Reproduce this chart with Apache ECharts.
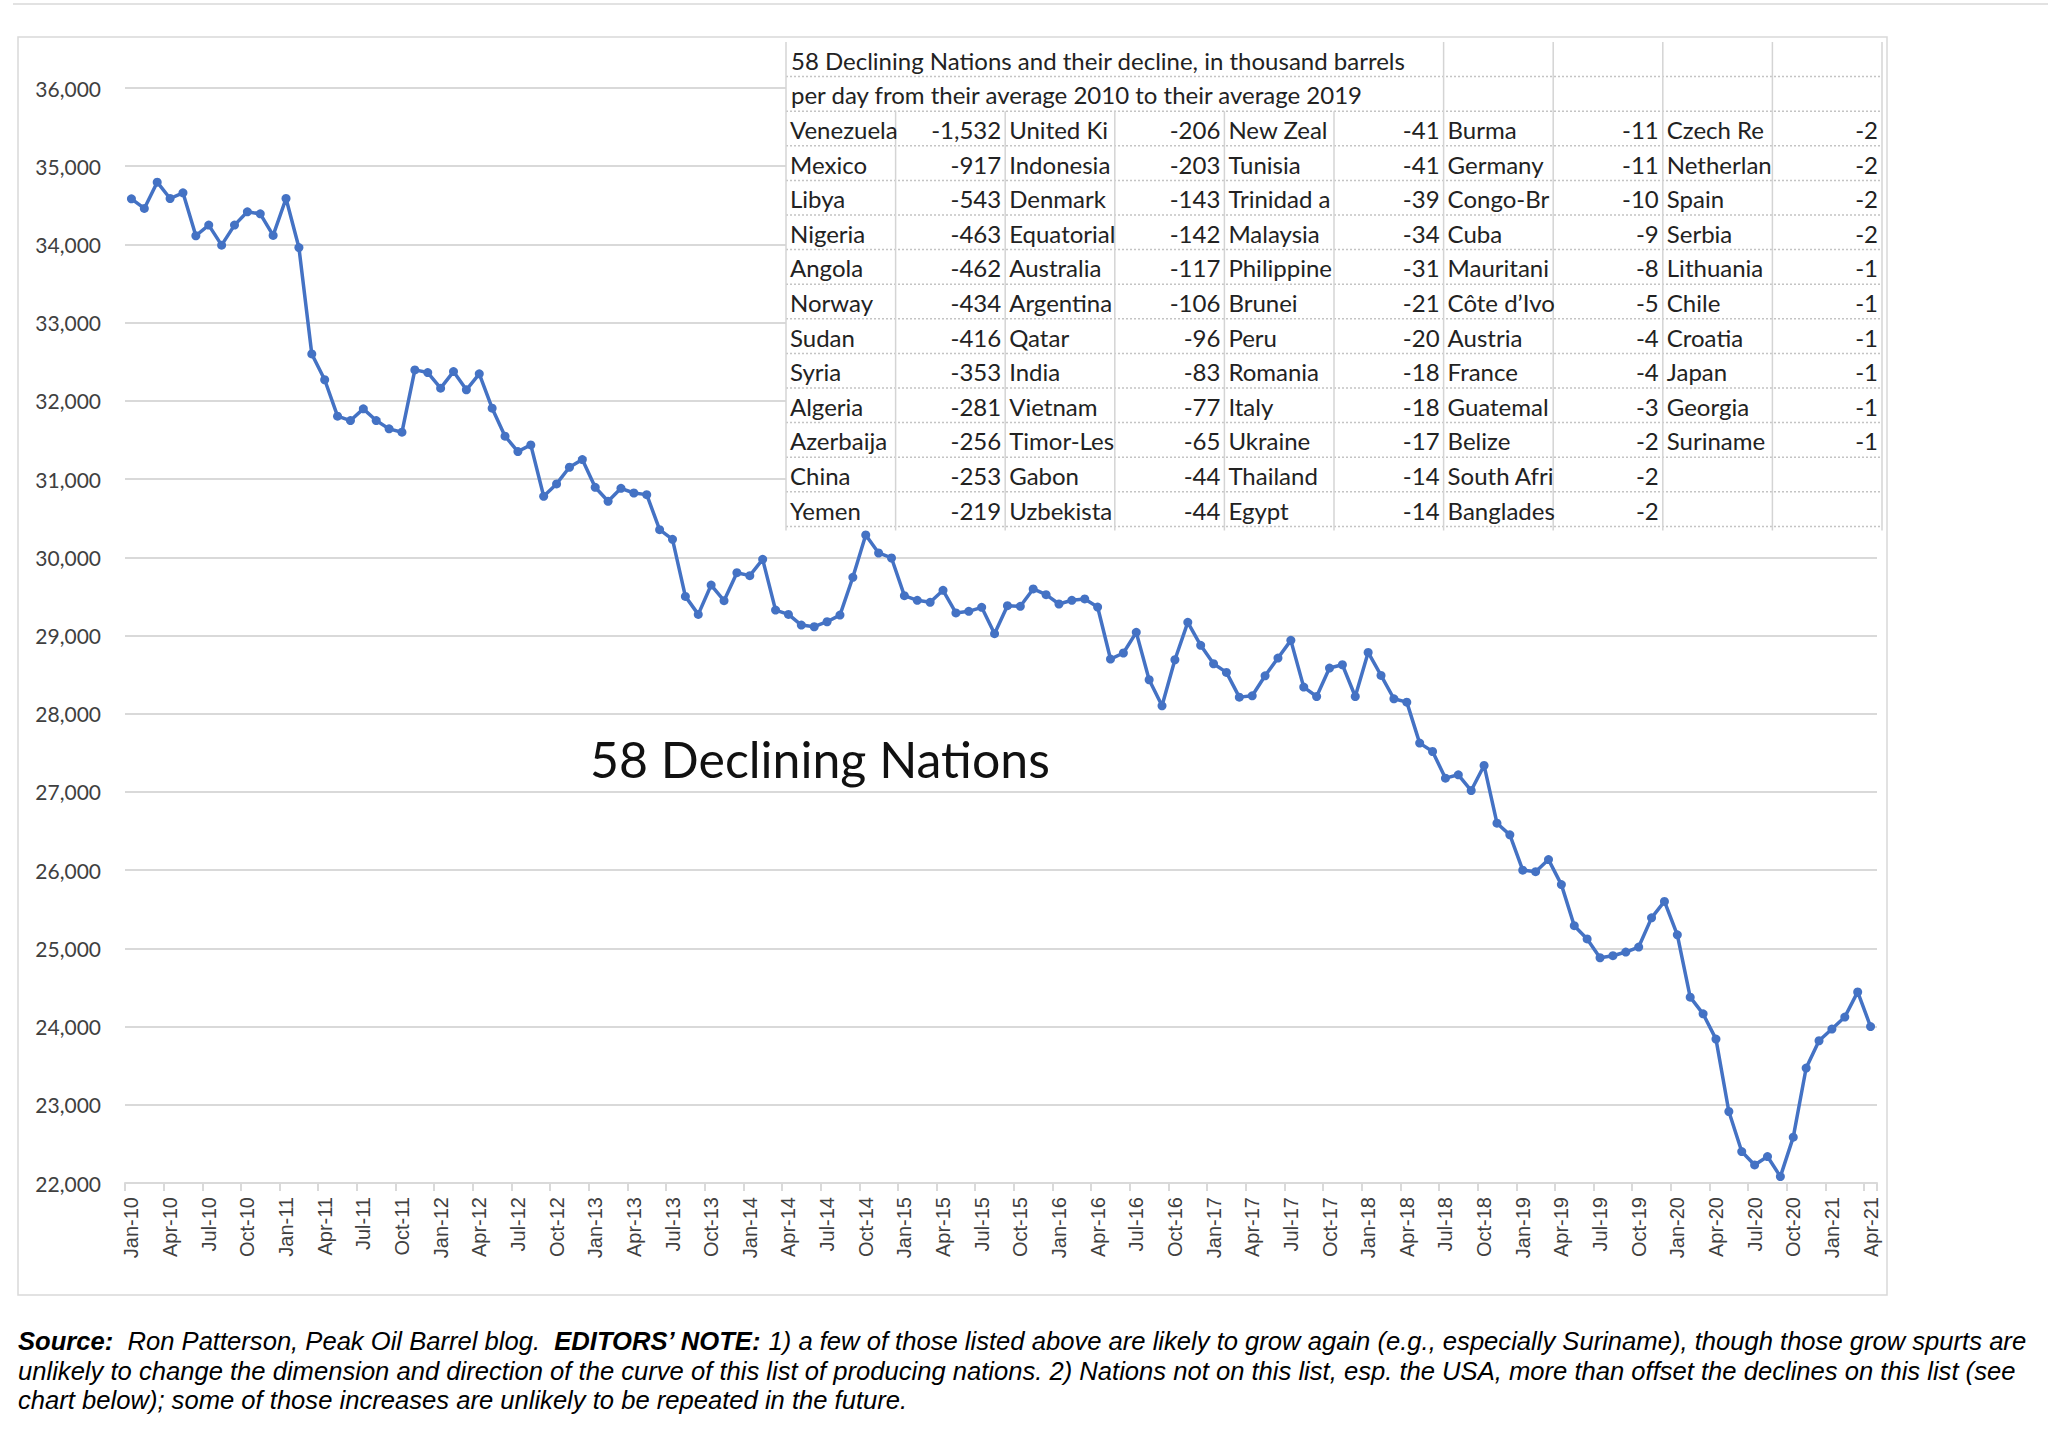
<!DOCTYPE html>
<html><head><meta charset="utf-8">
<script src="https://cdn.jsdelivr.net/npm/echarts@6/dist/echarts.min.js"></script>
<style>html,body{margin:0;padding:0;background:#fff}#c{width:2048px;height:1433px}</style>
</head><body><div id="c"></div>
<script>
// ---- data ----
const monthNames = ['Jan','Feb','Mar','Apr','May','Jun','Jul','Aug','Sep','Oct','Nov','Dec'];
const years = ['10','11','12','13','14','15','16','17','18','19','20','21'];
const categories = [];
years.forEach(y => monthNames.forEach(m => { if (categories.length < 136) categories.push(m + '-' + y); }));

const production = [
  34583, 34460, 34796, 34587, 34660, 34111, 34247, 33991, 34247, 34417, 34391, 34115,
  34587, 33960, 32600, 32270, 31804, 31748, 31898, 31748, 31642, 31599, 32396, 32362,
  32162, 32374, 32141, 32345, 31906, 31548, 31352, 31437, 30780, 30938, 31151, 31249,
  30895, 30716, 30882, 30822, 30801, 30353, 30230, 29500, 29270, 29645, 29445, 29803,
  29765, 29974, 29325, 29270, 29133, 29112, 29176, 29261, 29744, 30285, 30055, 29991,
  29509, 29450, 29424, 29578, 29288, 29309, 29360, 29023, 29381, 29373, 29595, 29522,
  29403, 29450, 29467, 29364, 28699, 28776, 29040, 28434, 28101, 28690, 29168, 28874,
  28639, 28528, 28212, 28229, 28485, 28712, 28938, 28340, 28220, 28584, 28626, 28220,
  28784, 28490, 28191, 28148, 27624, 27517, 27176, 27219, 27018, 27338, 26600, 26451,
  26000, 25980, 26135, 25815, 25290, 25120, 24880, 24906, 24953, 25017, 25390, 25600,
  25173, 24376, 24163, 23840, 22914, 22402, 22231, 22338, 22082, 22586, 23470, 23819,
  23968, 24122, 24443, 24000
];

const tableTitle1 = '58 Declining Nations and their decline, in thousand barrels';
const tableTitle2 = 'per day from their average 2010 to their average 2019';
const names1 = ['Venezuela','Mexico','Libya','Nigeria','Angola','Norway','Sudan','Syria','Algeria','Azerbaijan','China','Yemen'];
const values1 = [-1532,-917,-543,-463,-462,-434,-416,-353,-281,-256,-253,-219];
const names2 = ['United Kingdom','Indonesia','Denmark','Equatorial Guinea','Australia','Argentina','Qatar','India','Vietnam','Timor-Leste','Gabon','Uzbekistan'];
const values2 = [-206,-203,-143,-142,-117,-106,-96,-83,-77,-65,-44,-44];
const names3 = ['New Zealand','Tunisia','Trinidad and Tobago','Malaysia','Philippines','Brunei','Peru','Romania','Italy','Ukraine','Thailand','Egypt'];
const values3 = [-41,-41,-39,-34,-31,-21,-20,-18,-18,-17,-14,-14];
const names4 = ['Burma','Germany','Congo-Brazzaville','Cuba','Mauritania','Côte d’Ivoire','Austria','France','Guatemala','Belize','South Africa','Bangladesh'];
const values4 = [-11,-11,-10,-9,-8,-5,-4,-4,-3,-2,-2,-2];
const names5 = ['Czech Republic','Netherlands','Spain','Serbia','Lithuania','Chile','Croatia','Japan','Georgia','Suriname'];
const values5 = [-2,-2,-2,-2,-1,-1,-1,-1,-1,-1];

const chartLabel = '58 Declining Nations';
const footerLines = [
  '{b|Source:}  Ron Patterson, Peak Oil Barrel blog.  {b|EDITORS’ NOTE:} 1) a few of those listed above are likely to grow again (e.g., especially Suriname), though those grow spurts are',
  'unlikely to change the dimension and direction of the curve of this list of producing nations. 2) Nations not on this list, esp. the USA, more than offset the declines on this list (see',
  'chart below); some of those increases are unlikely to be repeated in the future.'
];

// ---- layout ----
const chart = echarts.init(document.getElementById('c'), null, {renderer: 'svg'});
const fmt = v => v.toLocaleString('en-US');
const graphic = [];

// top rule & frame
graphic.push({type:'line', z:1, shape:{x1:13, y1:4, x2:2048, y2:4}, style:{stroke:'#e2e2e2', lineWidth:2}});
graphic.push({type:'rect', z:1, shape:{x:18, y:37, width:1869, height:1258}, style:{fill:'none', stroke:'#d9d9d9', lineWidth:1.5}});

// table
const tx = 786, ty = 42, cw = 109.6, rh = 34.6, nCols = 10, nRows = 14;
const tf = 'Lato', tfs = 24;
const mctx = document.createElement('canvas').getContext('2d');
mctx.font = tfs + 'px ' + tf;
function clipToCell(txt, maxW) {
  // keep characters whose glyph ends within the cell (small tolerance for a partly cut glyph)
  let out = '';
  for (const ch of txt) {
    if (mctx.measureText(out + ch).width > maxW + 4) break;
    out += ch;
  }
  return out;
}
graphic.push({type:'rect', z:50, shape:{x:tx, y:ty, width:cw*nCols, height:rh*nRows}, style:{fill:'#ffffff', stroke:'none'}});
for (let r = 1; r <= nRows; r++) {
  graphic.push({type:'line', z:51, shape:{x1:tx, y1:ty + r*rh, x2:tx + nCols*cw, y2:ty + r*rh}, style:{stroke:'#c4c4c4', lineWidth:1.5, lineDash:[2,2]}});
}
for (let k = 0; k <= nCols; k++) {
  const y1 = (k >= 1 && k <= 5) ? ty + 2*rh : ty;
  graphic.push({type:'line', z:51, shape:{x1:tx + k*cw, y1:y1, x2:tx + k*cw, y2:ty + nRows*rh + 4}, style:{stroke:'#d4d4d4', lineWidth:1.5}});
}
function cellText(txt, x, y, align) {
  const st = {text: txt, x: x, y: y, fill: '#222222', fontFamily: tf, fontSize: tfs,
    align: align, verticalAlign: 'middle', textAlign: align, textVerticalAlign: 'middle'};
  graphic.push({type:'text', z:52, style: st});
}
cellText(tableTitle1, tx + 5, ty + rh*0.5 + 1, 'left');
cellText(tableTitle2, tx + 5, ty + rh*1.5 + 1, 'left');
const cols = [[names1, values1], [names2, values2], [names3, values3], [names4, values4], [names5, values5]];
cols.forEach((c, ci) => {
  const nx = tx + ci*2*cw;
  c[0].forEach((nm, j) => {
    const cy = ty + (j + 2.5)*rh + 1;
    cellText(clipToCell(nm, cw - 4), nx + 4, cy, 'left');
    cellText(fmt(c[1][j]), nx + 2*cw - 4, cy, 'right');
  });
});

// chart label
graphic.push({type:'text', z:40, style:{text: chartLabel, x:590, y:759, fill:'#111', fontFamily:'Lato', fontSize:50,
  align:'left', verticalAlign:'middle', textAlign:'left', textVerticalAlign:'middle'}});

// footer
footerLines.forEach((t, i) => {
  graphic.push({type:'text', z:40, style:{text: t, x:18, y:1341 + i*29.5, fill:'#000', fontFamily:'Liberation Sans', fontSize:25.6, fontStyle:'italic',
    align:'left', verticalAlign:'middle', textAlign:'left', textVerticalAlign:'middle',
    rich:{b:{fontWeight:'bold', fontStyle:'italic', fontFamily:'Liberation Sans', fontSize:25.6, fill:'#000'}}}});
});

const option = {
  animation: false,
  backgroundColor: '#ffffff',
  grid: {left:125, right:171, top:88, bottom:250, containLabel:false},
  xAxis: {
    type:'category', data: categories, boundaryGap: true,
    axisLine:{lineStyle:{color:'#d9d9d9', width:2}},
    axisTick:{show:true, interval:2, length:8, lineStyle:{color:'#d9d9d9', width:2}},
    axisLabel:{interval:2, rotate:90, margin:14, fontFamily:'Liberation Sans', fontSize:20, color:'#404040'},
    splitLine:{show:false}
  },
  yAxis: {
    type:'value', min:22000, max:36000, interval:1000,
    axisLine:{show:false}, axisTick:{show:false},
    axisLabel:{formatter: v => fmt(v), fontFamily:'Lato', fontSize:21, color:'#404040', margin:24},
    splitLine:{lineStyle:{color:'#d9d9d9', width:2}}
  },
  series: [{
    type:'line', data: production, symbol:'circle', symbolSize:9, showAllSymbol:true, z:10,
    itemStyle:{color:'#4472C4'}, lineStyle:{color:'#4472C4', width:3.5}
  }],
  graphic: graphic
};
chart.setOption(option);
</script></body></html>
